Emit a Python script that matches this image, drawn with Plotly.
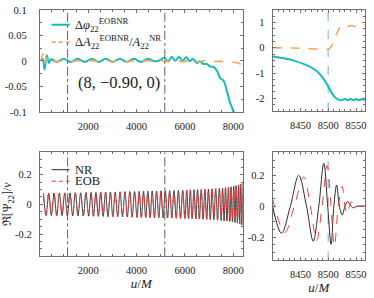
import plotly.graph_objects as go

# ---------------- data ----------------
# top-left: phase difference (cyan) and relative amplitude difference (orange)
dphi_u = [50, 120, 200, 290, 380, 470, 700, 990, 1280, 1570, 1860, 2150, 2440, 2730,
          3020, 3310, 3600, 3890, 4180, 4470, 4760, 5000, 5140, 5300, 5460, 5600, 5760,
          5900, 6060, 6200, 6330, 6500, 6620, 6750, 6900, 7050, 7190, 7330, 7460, 7600,
          7740, 7870, 8010, 8120]
dphi_v = [0.0, 0.004, -0.017, 0.011, -0.004, 0.003, -0.002, 0.004, -0.002, 0.004, -0.002,
          0.004, -0.002, 0.004, -0.002, 0.004, -0.002, 0.004, -0.002, 0.004, -0.001, 0.002,
          0.006, -0.001, 0.008, 0.0, 0.008, 0.0, 0.007, -0.001, 0.004, -0.004, -0.001,
          -0.006, -0.006, -0.011, -0.012, -0.02, -0.034, -0.039, -0.06, -0.082, -0.1, -0.12]
damp_u = [50, 120, 200, 280, 360, 450, 700, 990, 1280, 1570, 1860, 2150, 2440, 2730, 3020,
          3310, 3600, 3890, 4180, 4470, 4760, 5050, 5340, 5630, 5920, 6210, 6500, 6800,
          7100, 7500, 7900, 8100, 8250, 8330, 8390]
damp_v = [0.0, 0.014, -0.006, 0.006, -0.003, 0.002, -0.001, 0.0005, -0.0015, 0.0005,
          -0.0015, 0.0005, -0.0015, 0.0005, -0.0015, 0.0005, -0.0015, 0.0005, -0.0015,
          0.0005, -0.0015, 0.0005, -0.0015, 0.0005, -0.0015, 0.0005, -0.0015, 0.0, -0.001,
          -0.001, -0.002, -0.003, -0.005, -0.009, -0.016]

# top-right: zoom on the merger
dphi_zoom_u = [8400, 8420, 8440, 8460, 8475, 8485, 8492, 8498, 8503, 8508, 8513, 8518,
               8523, 8530, 8535, 8540, 8545, 8550, 8555, 8560, 8566]
dphi_zoom_v = [-0.35, -0.42, -0.52, -0.68, -0.85, -1.05, -1.25, -1.45, -1.65, -1.85, -1.98,
               -2.05, -2.08, -2.03, -2.08, -2.03, -2.08, -2.03, -2.08, -2.04, -2.06]
damp_zoom_u = [8400, 8430, 8460, 8490, 8497, 8502, 8508, 8515, 8522, 8528, 8535, 8542,
               8548, 8554, 8560, 8566]
damp_zoom_v = [0.0, -0.01, -0.03, -0.07, -0.08, -0.04, 0.15, 0.55, 0.85, 0.92, 0.85, 0.88,
               0.84, 0.9, 0.95, 0.9]

# bottom-left: real part of the waveform, extrema along the inspiral
wave_u = [150, 260, 370, 480, 590, 700, 810, 920, 1030, 1140, 1250, 1360, 1470, 1580, 1690,
          1800, 1910, 2020, 2120, 2220, 2320, 2420, 2520, 2620, 2720, 2820, 2920, 3020, 3120,
          3220, 3320, 3420, 3520, 3620, 3720, 3820, 3920, 4020, 4110, 4200, 4290, 4380, 4470,
          4560, 4650, 4740, 4830, 4920, 5010, 5100, 5190, 5280, 5370, 5460, 5550, 5640, 5730,
          5820, 5910, 6000, 6075, 6150, 6225, 6300, 6375, 6450, 6525, 6600, 6675, 6750, 6825,
          6900, 6975, 7050, 7125, 7200, 7275, 7350, 7425, 7500, 7560, 7620, 7680, 7740, 7800,
          7855, 7910, 7965, 8020, 8070, 8120, 8170, 8220, 8265, 8310, 8355, 8400]
nr_wave = [0.075, -0.075, 0.075, -0.075, 0.076, -0.076, 0.076, -0.076, 0.077, -0.077, 0.077,
           -0.077, 0.078, -0.078, 0.078, -0.078, 0.079, -0.079, 0.08, -0.08, 0.08, -0.08, 0.081,
           -0.081, 0.082, -0.082, 0.083, -0.083, 0.083, -0.083, 0.084, -0.084, 0.085, -0.085,
           0.086, -0.086, 0.087, -0.087, 0.088, -0.088, 0.088, -0.088, 0.089, -0.089, 0.09,
           -0.09, 0.09, -0.09, 0.091, -0.091, 0.092, -0.092, 0.092, -0.092, 0.093, -0.093,
           0.094, -0.094, 0.095, -0.095, 0.096, -0.096, 0.097, -0.097, 0.098, -0.098, 0.099,
           -0.099, 0.1, -0.1, 0.101, -0.101, 0.102, -0.102, 0.104, -0.104, 0.106, -0.106, 0.108,
           -0.108, 0.11, -0.11, 0.112, -0.112, 0.115, -0.115, 0.118, -0.118, 0.122, -0.122,
           0.126, -0.126, 0.131, -0.131, 0.137, -0.14, 0.15]
eob_wave = nr_wave

# bottom-right: zoom on the merger
nr_zoom_u = [8400, 8416, 8432, 8447, 8461, 8473, 8483, 8492, 8499, 8505, 8510, 8515, 8520,
             8525, 8530, 8535, 8540, 8545, 8551, 8566]
nr_zoom_v = [0.0, -0.175, 0.0, 0.2, 0.0, -0.226, 0.0, 0.28, 0.0, -0.247, 0.0, 0.138, 0.0,
             -0.057, 0.0, 0.03, 0.005, -0.01, 0.0, 0.0]
eob_zoom_u = [8400, 8422, 8439, 8456, 8468, 8479, 8489, 8498, 8505, 8511, 8518, 8525, 8530,
              8534, 8538, 8542, 8546, 8550, 8556, 8566]
eob_zoom_v = [0.05, -0.17, 0.0, 0.19, 0.0, -0.225, 0.0, 0.265, 0.0, -0.26, 0.0, 0.13, 0.0,
              -0.05, 0.0, 0.03, 0.005, -0.008, 0.0, 0.0]

# reference lines
vline_u = [1150, 5170]
merger_u = 8500
label_text = "(8, −0.90, 0)"

# legend labels
leg_dphi = "Δ<i>φ</i><sub>22</sub><sup>EOBNR</sup>"
leg_damp = "Δ<i>A</i><sub>22</sub><sup>EOBNR</sup>/<i>A</i><sub>22</sub><sup>NR</sup>"
leg_nr = "NR"
leg_eob = "EOB"

# tick labels
tl_y_vals = [-0.1, -0.05, 0, 0.05, 0.1]
tl_y_text = ["-0.1", "-0.05", "0", "0.05", "0.1"]
tr_y_vals = [-2, -1, 0, 1]
tr_y_text = ["-2", "-1", "0", "1"]
b_y_vals = [-0.2, 0, 0.2]
b_y_text = ["-0.2", "0", "0.2"]
left_x_ticks = [2000, 4000, 6000, 8000]
right_x_ticks = [8450, 8500, 8550]

# ---------------- figure ----------------
W, H = 374, 298
FONT = "Liberation Serif, DejaVu Serif, serif"
CYAN = "#14bcbc"
ORANGE = "#ffa65c"
RED = "#ff3838"
BLACK = "#2a2a2a"

fig = go.Figure()

fig.add_trace(go.Scatter(x=dphi_u, y=dphi_v, mode="lines", line=dict(color=CYAN, width=2, shape="spline"),
                         name=leg_dphi, showlegend=False, xaxis="x", yaxis="y"))
fig.add_trace(go.Scatter(x=damp_u, y=damp_v, mode="lines",
                         line=dict(color=ORANGE, width=1.6, dash="dash", shape="spline"),
                         name=leg_damp, showlegend=False, xaxis="x", yaxis="y"))
fig.add_trace(go.Scatter(x=dphi_zoom_u, y=dphi_zoom_v, mode="lines", line=dict(color=CYAN, width=2, shape="spline"),
                         showlegend=False, xaxis="x2", yaxis="y2"))
fig.add_trace(go.Scatter(x=damp_zoom_u, y=damp_zoom_v, mode="lines",
                         line=dict(color=ORANGE, width=1.6, dash="dash", shape="spline"),
                         showlegend=False, xaxis="x2", yaxis="y2"))

fig.add_trace(go.Scatter(x=wave_u, y=nr_wave, mode="lines", line=dict(color=BLACK, width=0.9, shape="spline"),
                         name=leg_nr, showlegend=False, xaxis="x3", yaxis="y3"))
fig.add_trace(go.Scatter(x=wave_u, y=eob_wave, mode="lines",
                         line=dict(color=RED, width=0.9, dash="dash", shape="spline"),
                         name=leg_eob, showlegend=False, xaxis="x3", yaxis="y3"))
fig.add_trace(go.Scatter(x=nr_zoom_u, y=nr_zoom_v, mode="lines", line=dict(color=BLACK, width=1, shape="spline"),
                         showlegend=False, xaxis="x4", yaxis="y4"))
fig.add_trace(go.Scatter(x=eob_zoom_u, y=eob_zoom_v, mode="lines",
                         line=dict(color=RED, width=1, dash="dash", shape="spline"),
                         showlegend=False, xaxis="x4", yaxis="y4"))

AX = dict(showline=True, linecolor="#707070", linewidth=1, mirror="allticks", ticks="inside",
          ticklen=3, tickcolor="#707070", showgrid=False, zeroline=False, ticklabeloverflow="allow",
          tickfont=dict(family=FONT, size=10.5, color="#222"))

x_left = [40 / W, 244 / W]
x_right = [274 / W, 367 / W]

fig.update_layout(
    width=W, height=H, margin=dict(l=0, r=0, t=0, b=0),
    paper_bgcolor="white", plot_bgcolor="white", showlegend=False,
    font=dict(family=FONT, color="#222"),
    xaxis=dict(AX, domain=x_left, anchor="y", range=[0, 8390], tickvals=left_x_ticks,
               ticklabelstandoff=4, minor=dict(ticks="inside", ticklen=2, dtick=500, tickcolor="#707070")),
    yaxis=dict(AX, domain=[1 - 111 / H, 1 - 5 / H], anchor="x", range=[-0.1, 0.1],
               tickvals=tl_y_vals, ticktext=tl_y_text, ticklabelstandoff=10,
               minor=dict(ticks="inside", ticklen=2, dtick=0.025, tickcolor="#707070")),
    xaxis2=dict(AX, domain=x_right, anchor="y2", range=[8400, 8566], tickvals=right_x_ticks,
                ticklabelstandoff=4, minor=dict(ticks="inside", ticklen=2, dtick=10, tickcolor="#707070")),
    yaxis2=dict(AX, domain=[1 - 110 / H, 1 - 5 / H], anchor="x2", range=[-2.5, 1.5],
                tickvals=tr_y_vals, ticktext=tr_y_text, ticklabelstandoff=5,
                minor=dict(ticks="inside", ticklen=2, dtick=0.25, tickcolor="#707070")),
    xaxis3=dict(AX, domain=x_left, anchor="y3", range=[0, 8390], tickvals=left_x_ticks,
                ticklabelstandoff=4, minor=dict(ticks="inside", ticklen=2, dtick=500, tickcolor="#707070"),
                title=dict(text="<i>u</i>/<i>M</i>", font=dict(family=FONT, size=13), standoff=0)),
    yaxis3=dict(AX, domain=[1 - 261 / H, 1 - 153 / H], anchor="x3", range=[-0.35, 0.35],
                tickvals=b_y_vals, ticktext=b_y_text, ticklabelstandoff=5,
                minor=dict(ticks="inside", ticklen=2, dtick=0.05, tickcolor="#707070"),
                title=dict(text="ℜ[Ψ<sub>22</sub>]/<i>ν</i>", font=dict(family=FONT, size=12), standoff=0)),
    xaxis4=dict(AX, domain=x_right, anchor="y4", range=[8400, 8566], tickvals=right_x_ticks,
                ticklabelstandoff=4, minor=dict(ticks="inside", ticklen=2, dtick=10, tickcolor="#707070"),
                title=dict(text="<i>u</i>/<i>M</i>", font=dict(family=FONT, size=13), standoff=0)),
    yaxis4=dict(AX, domain=[1 - 265 / H, 1 - 153 / H], anchor="x4", range=[-0.35, 0.35],
                tickvals=b_y_vals, ticktext=b_y_text, ticklabelstandoff=5,
                minor=dict(ticks="inside", ticklen=2, dtick=0.05, tickcolor="#707070")),
)

shapes = []
for xr, yr in [("x", "y"), ("x3", "y3")]:
    for u in vline_u:
        shapes.append(dict(type="line", xref=xr, yref=yr + " domain", x0=u, x1=u, y0=0, y1=1,
                           line=dict(color="#606060", width=1, dash="dashdot")))
for xr, yr in [("x2", "y2"), ("x4", "y4")]:
    shapes.append(dict(type="line", xref=xr, yref=yr + " domain", x0=merger_u, x1=merger_u, y0=0, y1=1,
                       line=dict(color="#a9c9e6", width=1.6, dash="dash"), layer="below"))

# legend keys (drawn in pixel positions of the page)
legend_rows = [
    (leg_dphi, 20.5, dict(color=CYAN, width=2)),
    (leg_damp, 38.5, dict(color=ORANGE, width=1.6, dash="4px,3px")),
    (leg_nr, 171, dict(color=BLACK, width=1)),
    (leg_eob, 183, dict(color=RED, width=1, dash="4px,3px")),
]
for text, ypx, ln in legend_rows:
    yp = 1 - ypx / H
    shapes.append(dict(type="line", xref="paper", yref="paper", x0=52 / W, x1=70 / W, y0=yp, y1=yp, line=ln))
    fig.add_annotation(xref="paper", yref="paper", x=73 / W, y=yp, xanchor="left", yanchor="middle",
                       text=text, showarrow=False, font=dict(family=FONT, size=12.5, color="#222"))
fig.update_layout(shapes=shapes)

fig.add_annotation(x=3290, y=-0.043, xref="x", yref="y", text=label_text, showarrow=False,
                   font=dict(family=FONT, size=16.5, color="#222"))

fig.write_html("out.html", config={"displayModeBar": False},
               post_script="document.body.style.margin='0';document.body.style.overflow='hidden';")
